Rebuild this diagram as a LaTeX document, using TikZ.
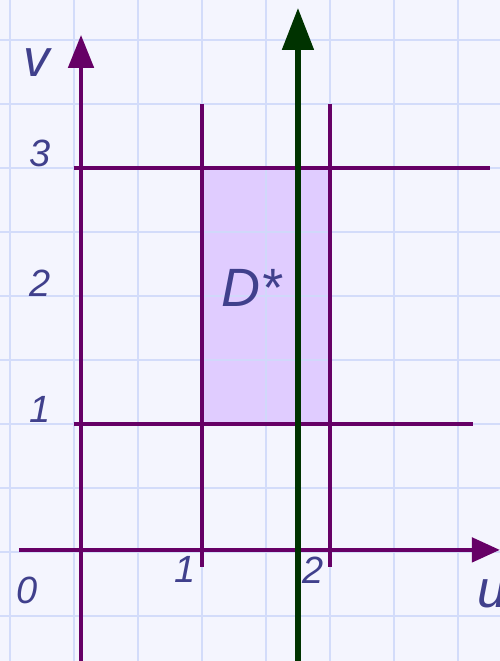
\documentclass[tikz,border=0pt]{standalone}
\usepackage{fontspec}
\setmainfont{Liberation Sans}
\usepackage{tikz}
\usetikzlibrary{arrows.meta}
\definecolor{PaperBlue}{RGB}{244, 245, 254}
\definecolor{GridBlue}{RGB}{208, 218, 250}
\definecolor{AxisPurple}{RGB}{102, 0, 102}
\definecolor{DarkGreen}{RGB}{0, 51, 0}
\definecolor{RegionLilac}{RGB}{224, 204, 255}
\definecolor{LabelInk}{RGB}{64, 64, 140}

\begin{document}
\begin{tikzpicture}[x=2.56cm, y=2.56cm,
  gridline/.style={draw=GridBlue, line width=0.85pt},
  axis/.style={draw=AxisPurple, line width=2.7pt},
  bound/.style={draw=AxisPurple, line width=2.5pt},
  lbl/.style={text=LabelInk, font=\fontsize{21.6}{26}\selectfont\itshape, inner sep=0pt},
  biglbl/.style={lbl, font=\fontsize{30}{36}\selectfont\itshape}]
  % paper and grid
  \fill[PaperBlue] (-0.578,-0.852) rectangle (3.328,4.3125);
  \useasboundingbox (-0.578,-0.852) rectangle (3.328,4.3125);
  \fill[RegionLilac] (1,1) rectangle (2,3);
  \draw[gridline, opacity=0.9] (-0.578,-0.852) grid[step={(0.5,0.5)}] (3.328,4.3125);
  % region bounds
  \draw[bound] (0,3) -- (3.25,3);
  \draw[bound] (0,1) -- (3.12,1);
  \draw[bound] (1,-0.117) -- (1,3.5);
  \draw[bound] (2,-0.117) -- (2,3.5);
  % axes
  \coordinate (ustart) at (-0.43,0.016);
  \coordinate (uend)   at (3.328,0.016);
  \coordinate (vstart) at (0.055,-0.852);
  \coordinate (vend)   at (0.055,4.04);
  \coordinate (gstart) at (1.75,-0.852);
  \coordinate (gend)   at (1.75,4.25);
  \draw[axis, -{Triangle[length=0.56cm, width=0.48cm]}] (ustart) -- (uend);
  \draw[axis, -{Triangle[length=0.66cm, width=0.5cm]}] (vstart) -- (vend);
  \draw[draw=DarkGreen, line width=2.9pt, -{Triangle[length=0.84cm, width=0.62cm]}] (gstart) -- (gend);
  % labels
  \node[biglbl] (vlbl) at (-0.29,3.82) {v};
  \node[lbl] (vthree)  at (-0.266,3.11) {3};
  \node[lbl] (vtwo)    at (-0.266,2.10) {2};
  \node[lbl] (vone)    at (-0.266,1.11) {1};
  \node[lbl] (orig)    at (-0.367,-0.30) {0};
  \node[lbl] (uone)    at (0.867,-0.14) {1};
  \node[lbl] (utwo)    at (1.867,-0.14) {2};
  \node[biglbl] (ulbl) at (3.27,-0.33) {u};
  \node[lbl, font=\fontsize{30.7}{36}\selectfont\itshape] (dstar) at (1.39,2.06) {D*};
\end{tikzpicture}
\end{document}
